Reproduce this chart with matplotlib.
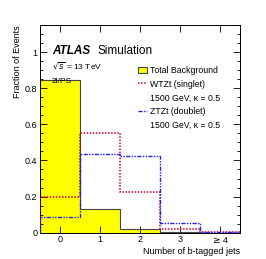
"""Fraction of events vs number of b-tagged jets (ATLAS style)."""
import matplotlib
matplotlib.use("Agg")
import matplotlib.pyplot as plt
from matplotlib.ticker import AutoMinorLocator, MultipleLocator
import numpy as np

categories = ["0", "1", "2", "3", r"$\geq$4"]
bkg = [0.846, 0.13, 0.022, 0.003, 0.0005]
singlet = [0.20, 0.554, 0.225, 0.022, 0.002]
doublet = [0.089, 0.434, 0.425, 0.052, 0.003]

edges = np.arange(len(categories) + 1) - 0.5
centers = np.arange(len(categories))

plt.rcParams["font.family"] = ["Liberation Sans", "DejaVu Sans"]
fig = plt.figure(figsize=(2.66, 2.59), dpi=100)
ax = fig.add_axes([40 / 266, 1 - 232.7 / 259, 200 / 266, 207.7 / 259])

ax.stairs(bkg, edges, fill=True, color="#ffff00", zorder=1)
ax.stairs(bkg, edges, color="#444444", lw=0.8, zorder=2)
ax.stairs(singlet, edges, color="#cc0033", lw=1.1, ls=(0, (1, 1)), zorder=3)
ax.stairs(doublet, edges, color="#1f1fff", lw=1.0,
          ls=(0, (3, 1, 1, 1, 1, 1)), zorder=3)

ax.set_xlim(-0.5, 4.5)
ax.set_ylim(0, 1.15)
ax.set_xticks(centers)
ax.set_xticklabels(categories, fontsize=6.5)
ax.yaxis.set_major_locator(MultipleLocator(0.2))
ax.yaxis.set_minor_locator(AutoMinorLocator(4))
ax.set_yticks([0, 0.2, 0.4, 0.6, 0.8, 1.0])
ax.set_yticklabels(["0", "0.2", "0.4", "0.6", "0.8", "1"], fontsize=6.5)
ax.tick_params(which="both", direction="in", top=True, right=True,
               pad=2, width=0.6)
ax.tick_params(which="major", length=5)
ax.tick_params(which="minor", length=2.5)
for s in ax.spines.values():
    s.set_linewidth(0.7)

ax.set_xlabel("Number of b-tagged jets", fontsize=6.5, loc="right",
              labelpad=1)
ax.set_ylabel("Fraction of Events", fontsize=6.5, loc="top", labelpad=2)

ax.text(0.06, 0.86, "ATLAS", transform=ax.transAxes, fontsize=8.5,
        fontweight="bold", style="italic")
ax.text(0.285, 0.86, "Simulation", transform=ax.transAxes, fontsize=8.5)
ax.text(0.06, 0.785, r"$\sqrt{s}$ = 13 TeV", transform=ax.transAxes,
        fontsize=6)
ax.text(0.06, 0.72, "2l/PS", transform=ax.transAxes, fontsize=6)

h_bkg = plt.Rectangle((0, 0), 1, 1, facecolor="#ffff00",
                      edgecolor="#444444", lw=0.8)
h_s, = ax.plot([], [], color="#cc0033", lw=1.1, ls=(0, (1, 1)))
h_d, = ax.plot([], [], color="#1f1fff", lw=1.0, ls=(0, (3, 1, 1, 1, 1, 1)))
h_blank = plt.Rectangle((0, 0), 1, 1, alpha=0)
ax.legend([h_bkg, h_s, h_blank, h_d, h_blank],
          ["Total Background", "WTZt (singlet)", "1500 GeV, κ = 0.5",
           "ZTZt (doublet)", "1500 GeV, κ = 0.5"],
          loc="upper left", bbox_to_anchor=(0.47, 0.825), frameon=False,
          fontsize=6.3, handlelength=1.0, handletextpad=0.3,
          labelspacing=0.55, borderpad=0)

fig.savefig("out.png", dpi=100)
